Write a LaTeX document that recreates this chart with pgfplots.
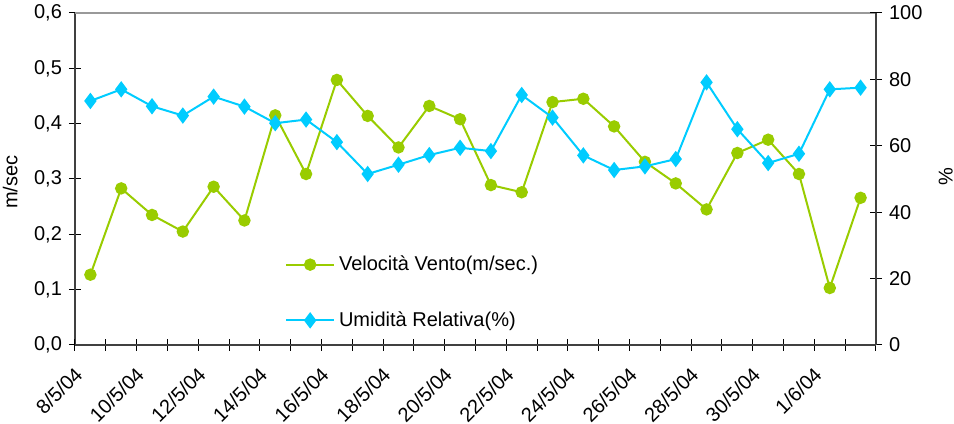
\documentclass[border=0pt]{standalone}
\usepackage{fontspec}
\setmainfont{Liberation Sans}
\usepackage{pgfplots}
\usepackage{pgfplotstable}
\pgfplotsset{compat=1.18}

\definecolor{vento}{HTML}{99CC00}
\definecolor{umid}{HTML}{00CCFF}
\definecolor{asse}{HTML}{404040}

% giorno (0 = 8/5/04), velocita vento (m/s), umidita relativa (%)
\pgfplotstableread{
idx vel   umid
0   0.127 73.5
1   0.283 77.0
2   0.235 71.9
3   0.205 69.1
4   0.286 74.8
5   0.225 71.8
6   0.415 66.8
7   0.309 67.9
8   0.479 61.1
9   0.414 51.5
10  0.357 54.3
11  0.432 57.2
12  0.408 59.4
13  0.289 58.4
14  0.276 75.3
15  0.439 68.5
16  0.445 57.1
17  0.395 52.7
18  0.331 53.8
19  0.292 56.0
20  0.245 79.1
21  0.347 65.0
22  0.371 54.8
23  0.309 57.6
24  0.103 77.0
25  0.266 77.5
}\dati

\pgfplotsset{
  base/.style={
    scale only axis, width=400.5pt, height=166pt,
    xmin=-0.5, xmax=25.5, ymin=0,
    axis line style={draw=asse, line width=1pt},
    tick align=center,
    tick style={black, line width=0.5pt},
    major tick length=6pt,
    /pgf/number format/assume math mode=true,
    tick label style={font=\fontsize{10}{12}\selectfont},
    label style={font=\fontsize{10}{12}\selectfont},
  }
}

\begin{document}
\begin{tikzpicture}
\begin{axis}[
    base, name=main,
    axis x line*=bottom, axis y line*=left,
    ymax=0.6,
    ytick={0,0.1,...,0.6},
    yticklabel style={/pgf/number format/.cd, fixed, fixed zerofill, precision=1, use comma},
    xtick={0,2,...,24},
    xticklabels={8/5/04,10/5/04,12/5/04,14/5/04,16/5/04,18/5/04,20/5/04,22/5/04,24/5/04,26/5/04,28/5/04,30/5/04,1/6/04},
    xtick style={draw=none},
    xticklabel style={xshift=-8.5pt, yshift=-2.5pt, rotate=45, anchor=north east},
    ylabel={m/sec},
    ylabel style={at={(axis description cs:-0.081,0.49)}, anchor=center},
]
\draw[gray!80, line width=0.8pt] (rel axis cs:0,1) -- (rel axis cs:1,1);
\addplot[vento, line width=1pt, mark=*, mark size=2.6pt, mark options={fill=vento, draw=vento}]
    table[x=idx, y=vel] {\dati};
\end{axis}

\begin{axis}[
    base,
    axis x line*=bottom, axis y line*=right,
    ymax=100,
    ytick={0,20,...,100},
    xtick={-0.5,0.5,...,25.5},
    xticklabel={\relax},
    ylabel={\%},
    ylabel style={at={(axis description cs:1.087,0.506)}, anchor=center},
    legend style={at={(axis description cs:0.2545,0.294)}, anchor=north west,
        draw=none, fill=none, font=\fontsize{10}{12}\selectfont,
        row sep=15pt, cells={anchor=west}},
    legend image code/.code={\draw[mark repeat=2, mark phase=2]
        plot coordinates {(0cm,0cm) (0.42cm,0cm) (0.84cm,0cm)};},
]
\addlegendimage{vento, line width=1pt, mark=*, mark size=2.6pt, mark options={fill=vento, draw=vento}}
\addlegendentry{Velocità Vento(m/sec.)}
\addplot[umid, line width=1pt, mark=diamond*, mark size=3.3pt, mark options={fill=umid, draw=umid}]
    table[x=idx, y=umid] {\dati};
\addlegendentry{Umidità Relativa(\%)}
\end{axis}

\pgfresetboundingbox
\path[use as bounding box] ([xshift=-37.5pt, yshift=-39.5pt]main.south west)
    rectangle ([xshift=39pt, yshift=6.5pt]main.north east);
\end{tikzpicture}
\end{document}
